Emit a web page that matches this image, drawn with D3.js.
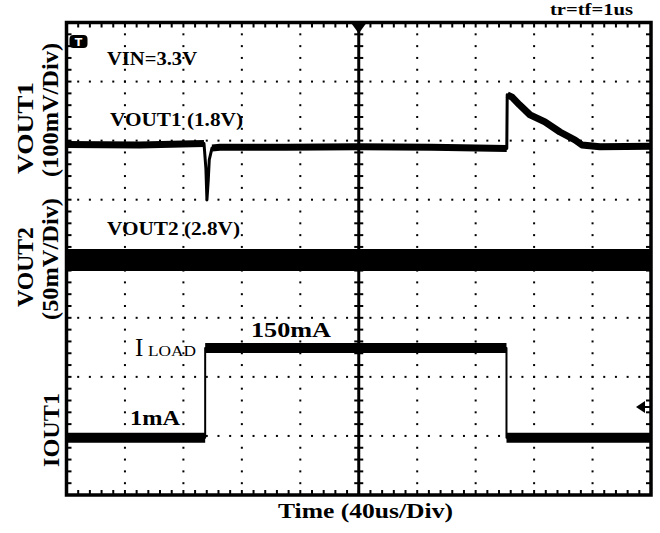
<!DOCTYPE html>
<html>
<head>
<meta charset="utf-8">
<script src="https://cdn.jsdelivr.net/npm/d3@7"></script>
<style>
  html, body { margin: 0; padding: 0; background: #fff; }
  svg { display: block; }
  text { font-family: "Liberation Serif", "Times New Roman", serif; fill: #000; }
</style>
</head>
<body>
<svg id="chart" width="660" height="533"></svg>
<script>
// ---------------- data ----------------
// Time axis: 40 us/div, 10 divisions, trigger at centre (0 us)
const timeDivisions = [-5, -4, -3, -2, -1, 0, 1, 2, 3, 4, 5];
const verticalDivisions = [-4, -3, -2, -1, 0, 1, 2, 3, 4];
const usPerDiv = 40;

// Channel 1: VOUT1 (1.8 V nominal), deviation in mV, 100 mV/div
const vout1TimeUs = [-200, -150, -105.9, -104.6, -103.9, -103.0, -102.3, -100.4, -95, -50, 0, 50, 101.3, 101.6, 104.9, 110, 117.2, 127.4, 137.7, 148, 152.8, 165, 200];
const vout1mV     = [   1,    0,    2.5,    -40,    -93,    -60,    -25,     -5,  -4, -4, -3, -4,    -6,    85,    81,  68,    51,    39,    22,  8.5,     0,  -3,  -2];
// Channel 2: VOUT2 (2.8 V nominal), deviation in mV, 50 mV/div
const vout2TimeUs = [-200, 200];
const vout2mV     = [0, 0];
// Channel 3: IOUT1 load current in mA
const ioutTimeUs = [-200, -105.1, -105.1, 101.1, 101.1, 200];
const ioutmA     = [1, 1, 153, 153, 1, 1];

// channel settings: screen offset (div) and scale (units/div)
const ch1Offset = 1.926, ch1Scale = 100;
const ch2Offset = -0.02, ch2Scale = 50;
const ch3Offset = -3.04, ch3Scale = 100;

// ---------------- layout ----------------
const svg = d3.select("#chart");
const L = 66.5, R = 651, T = 22.5, B = 495;
const x = d3.scaleLinear().domain([-5 * usPerDiv, 5 * usPerDiv]).range([L, R]);
const xd = d3.scaleLinear().domain([-5, 5]).range([L, R]);
const yd = d3.scaleLinear().domain([-4, 4]).range([B, T]);

svg.append("defs").append("clipPath").attr("id", "plotClip")
  .append("rect").attr("x", L).attr("y", T).attr("width", R - L).attr("height", B - T);

const g = svg.append("g");

// dotted grid
const minor = d3.range(-25, 26).map(v => v / 5);
const minorY = d3.range(-20, 21).map(v => v / 5);
timeDivisions.filter(d => d !== 0 && Math.abs(d) !== 5).forEach(d => {
  g.selectAll(null).data(minorY.filter(v => Math.abs(v) < 4)).enter().append("rect")
    .attr("x", xd(d) - 1).attr("y", v => yd(v) - 1).attr("width", 2).attr("height", 2).attr("fill", "#000");
});
verticalDivisions.filter(d => d !== 0 && Math.abs(d) !== 4).forEach(d => {
  g.selectAll(null).data(minor.filter(v => Math.abs(v) < 5)).enter().append("rect")
    .attr("x", v => xd(v) - 1).attr("y", yd(d) - 1).attr("width", 2).attr("height", 2).attr("fill", "#000");
});

// centre cross with ticks
g.append("line").attr("x1", xd(0)).attr("x2", xd(0)).attr("y1", T).attr("y2", B).attr("stroke", "#000").attr("stroke-width", 3);
g.append("line").attr("x1", L).attr("x2", R).attr("y1", yd(0)).attr("y2", yd(0)).attr("stroke", "#000").attr("stroke-width", 3);
g.selectAll(null).data(minorY).enter().append("line")
  .attr("x1", xd(0) - 4.5).attr("x2", xd(0) + 4.5).attr("y1", v => yd(v)).attr("y2", v => yd(v))
  .attr("stroke", "#000").attr("stroke-width", 2);
g.selectAll(null).data(minor).enter().append("line")
  .attr("y1", yd(0) - 4.5).attr("y2", yd(0) + 4.5).attr("x1", v => xd(v)).attr("x2", v => xd(v))
  .attr("stroke", "#000").attr("stroke-width", 2);

// border ticks
g.selectAll(null).data(minor).enter().append("line")
  .attr("x1", v => xd(v)).attr("x2", v => xd(v)).attr("y1", T).attr("y2", T + 5)
  .attr("stroke", "#000").attr("stroke-width", 2);
g.selectAll(null).data(minor).enter().append("line")
  .attr("x1", v => xd(v)).attr("x2", v => xd(v)).attr("y1", B).attr("y2", B - 5)
  .attr("stroke", "#000").attr("stroke-width", 2);
g.selectAll(null).data(minorY).enter().append("line")
  .attr("x1", L).attr("x2", L + 5).attr("y1", v => yd(v)).attr("y2", v => yd(v))
  .attr("stroke", "#000").attr("stroke-width", 2);
g.selectAll(null).data(minorY).enter().append("line")
  .attr("x1", R).attr("x2", R - 5).attr("y1", v => yd(v)).attr("y2", v => yd(v))
  .attr("stroke", "#000").attr("stroke-width", 2);

// ---------------- traces ----------------
const tg = svg.append("g").attr("clip-path", "url(#plotClip)");
function drawTrace(times, vals, offset, scale, thick, thin) {
  const pts = times.map((t, i) => [x(t), yd(offset + vals[i] / scale)]);
  const lineGen = d3.line();
  // thin stroke for the whole trace (fast edges), thick noise band on settled runs
  tg.append("path").attr("d", lineGen(pts)).attr("fill", "none").attr("stroke", "#000")
    .attr("stroke-width", thin).attr("stroke-linejoin", "round");
  let run = [pts[0]];
  const flush = () => {
    if (run.length > 1) {
      tg.append("path").attr("d", lineGen(run)).attr("fill", "none").attr("stroke", "#000")
        .attr("stroke-width", thick).attr("stroke-linecap", "butt").attr("stroke-linejoin", "round");
    }
  };
  for (let i = 0; i < pts.length - 1; i++) {
    const steep = Math.abs(pts[i + 1][0] - pts[i][0]) < 4;
    if (steep) { flush(); run = [pts[i + 1]]; }
    else run.push(pts[i + 1]);
  }
  flush();
}
drawTrace(vout1TimeUs, vout1mV, ch1Offset, ch1Scale, 7, 3);
drawTrace(vout2TimeUs, vout2mV, ch2Offset, ch2Scale, 22, 3);
drawTrace(ioutTimeUs, ioutmA, ch3Offset, ch3Scale, 10, 2);

// frame
svg.append("rect").attr("x", L).attr("y", T).attr("width", R - L).attr("height", B - T)
  .attr("fill", "none").attr("stroke", "#000").attr("stroke-width", 3.5);

// trigger position marker (top centre)
svg.append("path")
  .attr("d", `M${xd(0) - 8},${T} L${xd(0) + 8},${T} L${xd(0)},${T + 11} Z`).attr("fill", "#000");

// channel-3 level marker (right)
const mY = 407;
svg.append("path").attr("d", `M${R - 15},${mY} L${R - 6},${mY - 6} L${R - 6},${mY + 6} Z`).attr("fill", "#000");
svg.append("line").attr("x1", R - 7).attr("x2", R - 1).attr("y1", mY).attr("y2", mY).attr("stroke", "#000").attr("stroke-width", 2);

// trigger "T" tag
svg.append("rect").attr("x", 69.5).attr("y", 35).attr("width", 18).attr("height", 13).attr("rx", 4).attr("fill", "#000");
svg.append("text").attr("x", 78.5).attr("y", 46).attr("text-anchor", "middle")
  .style("fill", "#fff").style("font-family", "'DejaVu Sans', sans-serif").style("font-weight", "bold").style("font-size", "11px").text("T");

// ---------------- texts ----------------
function label(txt, xPos, yPos, size, len, weight) {
  const t = svg.append("text").attr("x", xPos).attr("y", yPos)
    .style("font-size", size + "px").style("font-weight", weight || "bold").text(txt);
  if (len) t.attr("textLength", len).attr("lengthAdjust", "spacingAndGlyphs");
  return t;
}
label("tr=tf=1us", 550, 15, 16, 83);
label("VIN=3.3V", 107, 65, 18, 90);
label("VOUT1 (1.8V)", 110, 126, 18, 133);
label("VOUT2 (2.8V)", 107, 235, 18, 133);
label("I", 135, 356, 25, null, "normal");
label("LOAD", 148, 356, 15, 48, "normal");
label("150mA", 251, 337, 21, 80);
label("1mA", 130, 425, 21, 50);
label("Time (40us/Div)", 278, 518, 20, 175);

function vlabel(txt, bx, cy, size, len) {
  svg.append("text").attr("transform", `translate(${bx},${cy}) rotate(-90)`)
    .attr("text-anchor", "middle").attr("textLength", len).attr("lengthAdjust", "spacingAndGlyphs")
    .style("font-size", size + "px").style("font-weight", "bold").text(txt);
}
vlabel("VOUT1", 33, 128, 23, 92);
vlabel("(100mV/Div)", 58, 110, 23, 134);
vlabel("VOUT2", 33, 267, 23, 80);
vlabel("(50mV/Div)", 58, 259, 23, 122);
vlabel("IOUT1", 59, 430, 23, 74);
</script>
</body>
</html>
